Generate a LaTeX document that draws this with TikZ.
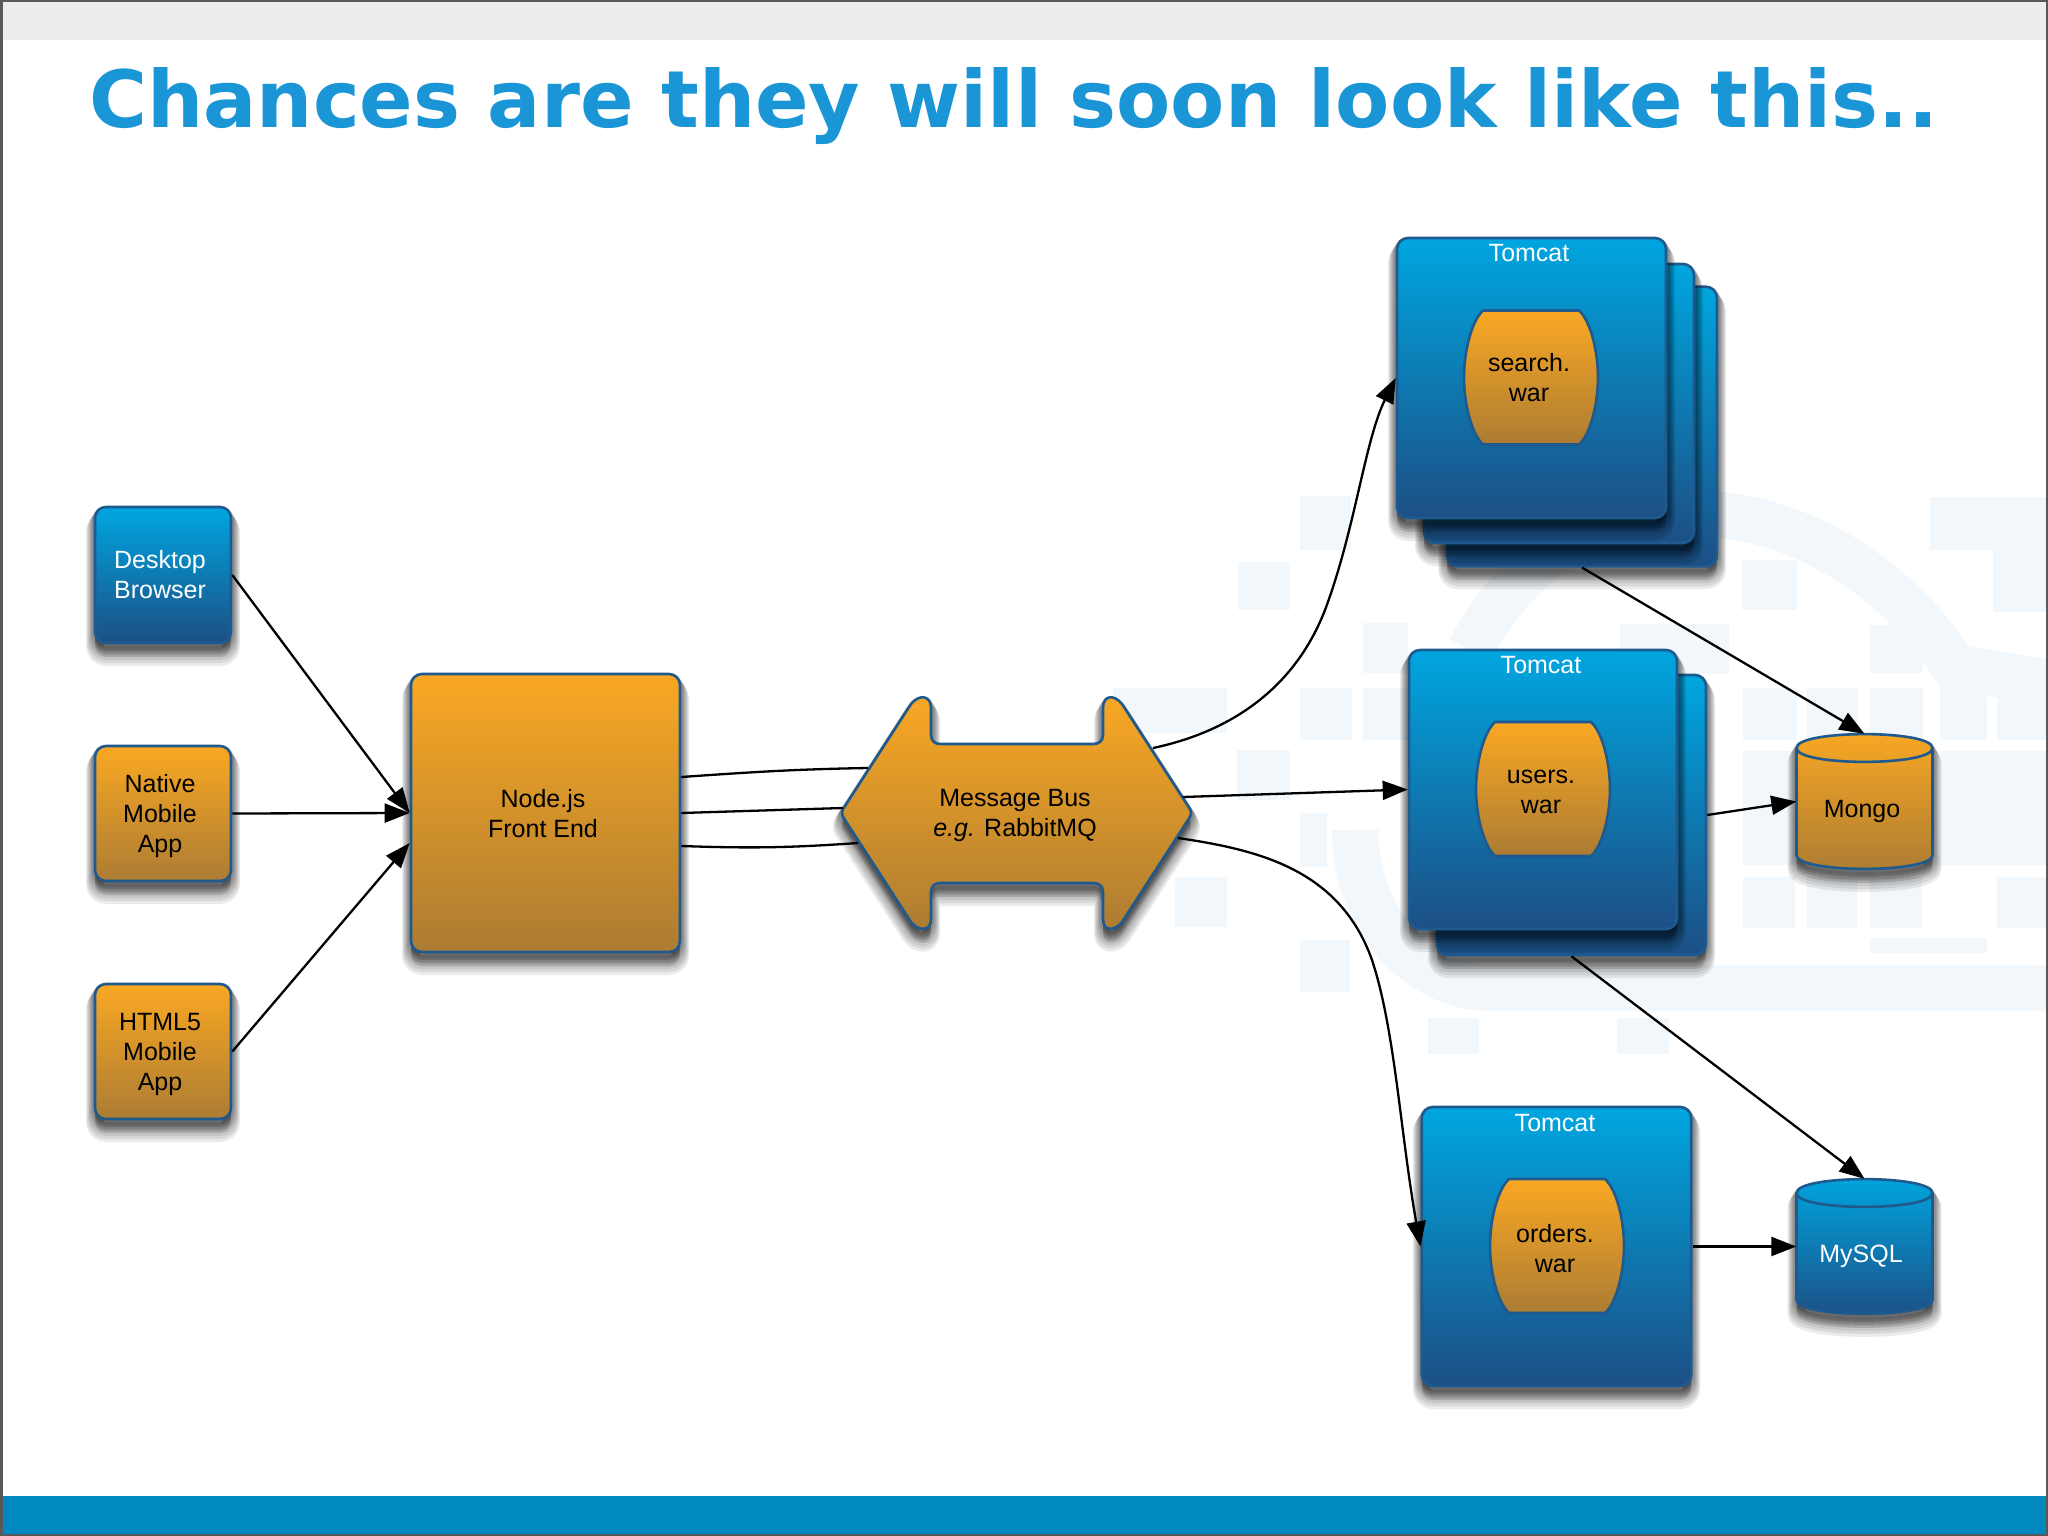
\documentclass[tikz,border=0pt]{standalone}
\usepackage{fontspec}
\setmainfont{Liberation Sans}
\newfontfamily\titlefont{DejaVu Sans}
\usetikzlibrary{arrows.meta,shadows}

\definecolor{boxblue}{HTML}{00A6E0}
\definecolor{boxnavy}{HTML}{1C4F85}
\definecolor{boxorange}{HTML}{FAA823}
\definecolor{boxbrown}{HTML}{AC7C33}
\definecolor{boxedge}{HTML}{1F5A8E}
\definecolor{titleblue}{HTML}{1A96D6}
\definecolor{barblue}{HTML}{0089BF}
\definecolor{markblue}{HTML}{F1F7FB}

\tikzset{
  shadowpass/.style 2 args={general shadow={fill=black,draw=black,line join=round,line width=#1,opacity=.08,
    shadow xshift=0pt,shadow yshift=#2}},
  softshadow/.style={shadowpass={18pt}{-14pt},shadowpass={16pt}{-12pt},shadowpass={14pt}{-10pt},shadowpass={12pt}{-8pt},
    shadowpass={10pt}{-6pt},shadowpass={8pt}{-4pt},shadowpass={6pt}{-2pt}},
  boxbase/.style={draw=boxedge,line width=2.6pt},
  bluebox/.style={softshadow,boxbase,top color=boxblue,bottom color=boxnavy},
  orangebox/.style={softshadow,boxbase,top color=boxorange,bottom color=boxbrown},
  warfill/.style={boxbase,top color=boxorange,bottom color=boxbrown},
  squarebox/.style={rounded corners=11pt,minimum width=#1,inner sep=0pt},
  dbspot/.style={minimum width=136pt,minimum height=135pt,inner sep=0pt},
  wiretext/.style={inner sep=0pt,align=center,font=\fontsize{25}{30}\selectfont},
  link/.style={draw=black,line width=2.3pt},
  linkarrow/.style={link,-{Triangle[length=25pt,width=19pt]}},
}

% orange barrel that holds a war file, drawn round its centre
\newcommand{\warshape}[1]{
\draw[warfill,shift={(#1)}] (-48,-67) -- (48,-67) .. controls (60,-56) and (67,-25) .. (67,0)
  .. controls (67,25) and (60,56) .. (48,67) -- (-48,67) .. controls (-60,56) and (-67,25) .. (-67,0)
  .. controls (-67,-25) and (-60,-56) .. (-48,-67) -- cycle;
}
% database drum with its lid
\newcommand{\dbshape}[2]{
\draw[#1,shift={(#2)}] (-68,-53.5) .. controls (-68,-72) and (68,-72) .. (68,-53.5) -- (68,53.5)
  .. controls (68,72) and (-68,72) .. (-68,53.5) -- cycle;
\draw[boxbase,shift={(#2)}] (-68,-53.5) .. controls (-68,-35) and (68,-35) .. (68,-53.5);
}

\begin{document}
\begin{tikzpicture}[x=1pt,y=-1pt]
\useasboundingbox (0,0) rectangle (2048,1536);
\fill[white] (0,0) rectangle (2048,1536);

% watermark behind the diagram
\foreach \xa/\ya/\xb/\yb in {1300/496/1351/550,1238/562/1290/610,1363/623/1408/673,1620/624/1729/674,
  1113/688/1227/733,1300/688/1352/740,1363/688/1408/740,1237/750/1290/800,1300/813/1327/867,
  1175/877/1227/927,1300/940/1350/992,1428/1018/1479/1054,1617/1018/1669/1054,
  1742/560/1797/610,1930/497/2048/550,1993/550/2048/612,1870/625/1923/673,
  1743/688/1797/740,1807/688/1858/740,1870/688/1923/740,1940/688/1987/740,1997/688/2048/740,
  1743/751/1797/865,1940/751/2048/865,
  1743/877/1795/928,1807/877/1857/928,1870/877/1922/928,1997/877/2048/928,1870/938/1987/953}
  \fill[markblue] (\xa,\ya) rectangle (\xb,\yb);
\draw[markblue,line width=46pt] (1470,650) .. controls (1530,540) and (1610,513) .. (1690,513)
  .. controls (1800,513) and (1900,580) .. (1955,668) -- (2048,682);
\draw[markblue,line width=46pt] (1355,830) .. controls (1355,920) and (1420,988) .. (1490,988) -- (2048,988);

% slide header and footer
\fill[black!7] (0,0) rectangle (2048,40);
\fill[barblue] (0,1496) rectangle (2048,1536);
\node[anchor=base west,inner sep=0pt,text=titleblue,font=\titlefont\bfseries\fontsize{79}{90}\selectfont] (title) at (89,128)
  {Chances are they will soon look like this..};

% clients and front end
\node[bluebox,squarebox=136pt,minimum height=136pt] (desktop) at (163,575) {};
\node[wiretext,text=white] (desktoplabel) at (160,575) {Desktop\\Browser};
\node[orangebox,squarebox=136pt,minimum height=135pt] (native) at (163,813.5) {};
\node[wiretext] (nativelabel) at (160,816) {Native\\Mobile\\App};
\node[orangebox,squarebox=136pt,minimum height=135pt] (html5) at (163,1051.5) {};
\node[wiretext] (html5label) at (160,1054) {HTML5\\Mobile\\App};
\node[orangebox,squarebox=269pt,minimum height=278pt] (nodejs) at (545.5,813) {};
\node[wiretext] (nodejslabel) at (543,813.5) {Node.js\\Front End};

% message bus
\draw[orangebox] (845,806) -- (911,704) .. controls (919,694) and (931,695) .. (931,708) -- (931,735)
  .. controls (931,741) and (935,744) .. (940,744) -- (1093,744) .. controls (1099,744) and (1103,741) .. (1103,735)
  -- (1103,708) .. controls (1103,695) and (1114,694) .. (1122,704) -- (1188,806)
  .. controls (1192,811) and (1192,815) .. (1188,820) -- (1122,922) .. controls (1114,932) and (1103,931) .. (1103,919)
  -- (1103,892) .. controls (1103,886) and (1099,883) .. (1093,883) -- (940,883)
  .. controls (935,883) and (931,886) .. (931,892) -- (931,919) .. controls (931,931) and (919,932) .. (911,922)
  -- (845,820) .. controls (841,815) and (841,811) .. (845,806) -- cycle;
\node[wiretext] (bus) at (1015,815) {Message Bus\\{\itshape e.g.} RabbitMQ};
\coordinate (busla) at (868,768);
\coordinate (buslb) at (843,808);
\coordinate (buslc) at (858,843);
\coordinate (busra) at (1153,748);
\coordinate (busrb) at (1183,797);
\coordinate (busrc) at (1178,838);

% search tomcat
\node[bluebox,squarebox=270pt,minimum height=279.5pt] (tcsearchc) at (1582,426.5) {};
\node[bluebox,squarebox=270pt,minimum height=279pt] (tcsearchb) at (1559,403.5) {};
\node[bluebox,squarebox=269pt,minimum height=280pt] (tcsearch) at (1531.5,378) {};
\node[wiretext,text=white] (tcsearchlabel) at (1529,253) {Tomcat};
\warshape{1531,377.5}
\node[wiretext] (warsearch) at (1529,378) {search.\\war};

% users tomcat
\node[bluebox,squarebox=269pt,minimum height=280pt] (tcusersb) at (1571.5,815) {};
\node[bluebox,squarebox=268pt,minimum height=279pt] (tcusers) at (1543,789.5) {};
\node[wiretext,text=white] (tcuserslabel) at (1541,665) {Tomcat};
\warshape{1543,789}
\node[wiretext] (warusers) at (1541,791.5) {users.\\war};

% orders tomcat
\node[bluebox,squarebox=269.5pt,minimum height=279pt] (tcorders) at (1556.5,1246.5) {};
\node[wiretext,text=white] (tcorderslabel) at (1555,1123) {Tomcat};
\warshape{1557,1246}
\node[wiretext] (warorders) at (1555,1248.5) {orders.\\war};

% stores
\dbshape{orangebox}{1864.5,801.5}
\node[dbspot] (mongo) at (1864.5,801.5) {};
\node[wiretext] (mongolabel) at (1862,811) {Mongo};
\dbshape{bluebox}{1864.5,1246.5}
\node[dbspot] (mysql) at (1864.5,1246.5) {};
\node[wiretext,text=white] (mysqllabel) at (1861,1256) {MySQL};

% connectors
\draw[linkarrow] (desktop.east) -- (nodejs.west);
\draw[linkarrow] (native.east) -- (nodejs.west);
\draw[linkarrow] (html5.east) -- ([yshift=-30pt]nodejs.west);
\draw[link] ([yshift=36pt]nodejs.east) to[out=4,in=181] (busla);
\draw[link] (nodejs.east) -- (buslb);
\draw[link] ([yshift=-33pt]nodejs.east) to[out=-2,in=184] (buslc);
\draw[linkarrow] (busra) .. controls (1215,735) and (1290,700) .. (1325,610)
  .. controls (1355,530) and (1365,440) .. (tcsearch.west);
\draw[linkarrow] (busrb) -- (tcusers.west);
\draw[linkarrow] (busrc) .. controls (1260,850) and (1340,870) .. (1372,960)
  .. controls (1395,1030) and (1400,1130) .. (tcorders.west);
\draw[linkarrow] (tcsearchc.south) -- (mongo.north);
\draw[linkarrow] (tcusersb.east) -- (mongo.west);
\draw[linkarrow] (tcusersb.south) -- (mysql.north);
\draw[linkarrow] (tcorders.east) -- (mysql.west);

% slide frame
\draw[black!65,line width=5pt] (0,0) rectangle (2048,1536);
\end{tikzpicture}
\end{document}
